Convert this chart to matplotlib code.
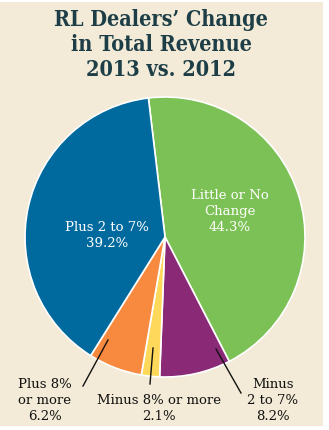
import matplotlib
matplotlib.use("Agg")
import matplotlib.pyplot as plt
from matplotlib.patches import Rectangle
import numpy as np

# data
categories = ["Little or No\nChange", "Minus\n2 to 7%", "Minus 8% or more", "Plus 8%\nor more", "Plus 2 to 7%"]
shares = [44.3, 8.2, 2.1, 6.2, 39.2]
colors = ["#7cc155", "#8a2a77", "#fdd85b", "#f88a3f", "#006a9f"]
title_lines = ["RL Dealers’ Change", "in Total Revenue", "2013 vs. 2012"]

W, H = 329, 430
CX, CY, R = 165, 237, 140   # pie centre / radius in pixels


def px(x, y):
    # pixel (top-left origin) -> pie units
    return (x - CX) / R, (CY - y) / R


fig = plt.figure(figsize=(W / 100, H / 100), dpi=100)
fig.patch.set_facecolor("white")

ax = fig.add_axes([0, 0, 1, 1])
ax.patch.set_alpha(0)
bx0, by1 = px(0, 2)
bx1, by0 = px(323, 426)
ax.add_patch(Rectangle((bx0, by0), bx1 - bx0, by1 - by0, facecolor="#f3ebd7",
                       edgecolor="none", zorder=-5))
wedges, _ = ax.pie(shares, colors=colors, startangle=96.8, counterclock=False,
                   radius=1, wedgeprops=dict(edgecolor="white", linewidth=1.2))
ax.set_aspect("auto")
x0, y1 = px(0, 0)
x1, y0 = px(W, H)
ax.set_xlim(x0, x1)
ax.set_ylim(y0, y1)
ax.axis("off")

serif = "DejaVu Serif"

# title
for i, line in enumerate(title_lines):
    ax.text(*px(161, 20 + i * 25), line, ha="center", va="center", fontsize=15.5,
            fontweight="bold", family=serif, color="#1d3e47", fontstretch="condensed")

# labels inside slices
inside = {0: (230, 212), 4: (107, 236)}
for i, (x, y) in inside.items():
    lab = categories[i] + "\n" + f"{shares[i]:.1f}%"
    ax.text(*px(x, y), lab, ha="center", va="center", fontsize=9.5, family=serif,
            color="white", linespacing=1.3)

# outside labels with leader lines
outside = {3: ((45, 401), (108, 340), (83, 386)),
           2: ((159, 408), (153, 348), (150, 384)),
           1: ((273, 400), (216, 349), (241, 393))}
for i, (tpos, start, end) in outside.items():
    lab = categories[i] + "\n" + f"{shares[i]:.1f}%"
    ax.text(*px(*tpos), lab, ha="center", va="center", fontsize=9.5, family=serif,
            color="#111111", linespacing=1.3)
    (sx, sy), (ex, ey) = px(*start), px(*end)
    ax.plot([sx, ex], [sy, ey], color="#111111", lw=1)

fig.savefig("out.png", dpi=100)
